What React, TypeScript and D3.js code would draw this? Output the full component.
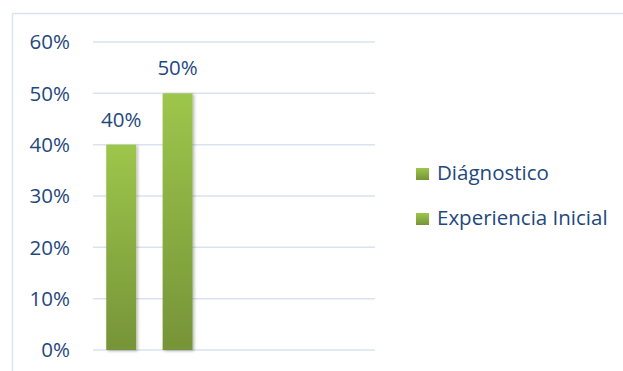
import React from "react";
import * as d3 from "d3";

const seriesNames = ["Diágnostico", "Experiencia Inicial"];
const values = [0.4, 0.5];
const slotCount = 5;
const yTicks = [0, 0.1, 0.2, 0.3, 0.4, 0.5, 0.6];

const W = 623;
const H = 371;
const FONT = "'Open Sans', sans-serif";
const FS = 20.5;
const TEXT = "#1F497D";
const GRID = "#D9E3F1";

export default function App() {
  const x = d3.scaleBand<number>().domain(d3.range(slotCount)).range([93, 375]).paddingInner(0.47).paddingOuter(0.235);
  const y = d3.scaleLinear().domain([0, 0.6]).range([350, 42]);
  const fmt = d3.format(".0%");
  return (
    <svg width={W} height={H} style={{ position: "absolute", left: 0, top: 0 }} fontFamily={FONT}>
      <defs>
        <linearGradient id="barGrad" x1="0" y1="0" x2="0" y2="1">
          <stop offset="0" stopColor="#9DC64B" />
          <stop offset="1" stopColor="#769438" />
        </linearGradient>
        <linearGradient id="legGrad" x1="0" y1="0" x2="0" y2="1">
          <stop offset="0" stopColor="#9DC64B" />
          <stop offset="1" stopColor="#769438" />
        </linearGradient>
        <filter id="shadow" x="-30%" y="-10%" width="160%" height="120%">
          <feDropShadow dx="1.5" dy="1" stdDeviation="1.5" floodColor="#000" floodOpacity="0.3" />
        </filter>
      </defs>
      <rect x={0} y={0} width={W} height={H} fill="#fff" />
      <rect x={12.5} y={13.5} width={W} height={H} fill="none" stroke={GRID} strokeWidth={1.5} />
      {yTicks.map((t) => (
        <g key={t}>
          <line x1={93} x2={375} y1={y(t)} y2={y(t)} stroke={GRID} strokeWidth={1.5} />
          <text x={70} y={y(t)} dy="0.36em" textAnchor="end" fontSize={FS} fill={TEXT}>
            {fmt(t)}
          </text>
        </g>
      ))}
      {values.map((v, i) => (
        <g key={i}>
          <rect
            x={x(i)}
            y={y(v)}
            width={x.bandwidth()}
            height={y(0) - y(v)}
            fill="url(#barGrad)"
            filter="url(#shadow)"
          />
          <text x={(x(i) as number) + x.bandwidth() / 2} y={y(v) - 18} textAnchor="middle" fontSize={FS} fill={TEXT}>
            {fmt(v)}
          </text>
        </g>
      ))}
      {seriesNames.map((s, i) => (
        <g key={s} transform={`translate(416, ${180 + i * 45})`}>
          <rect x={0} y={-12} width={13} height={12} fill="url(#legGrad)" />
          <text x={21} y={0} fontSize={FS} fill={TEXT}>
            {s}
          </text>
        </g>
      ))}
    </svg>
  );
}
